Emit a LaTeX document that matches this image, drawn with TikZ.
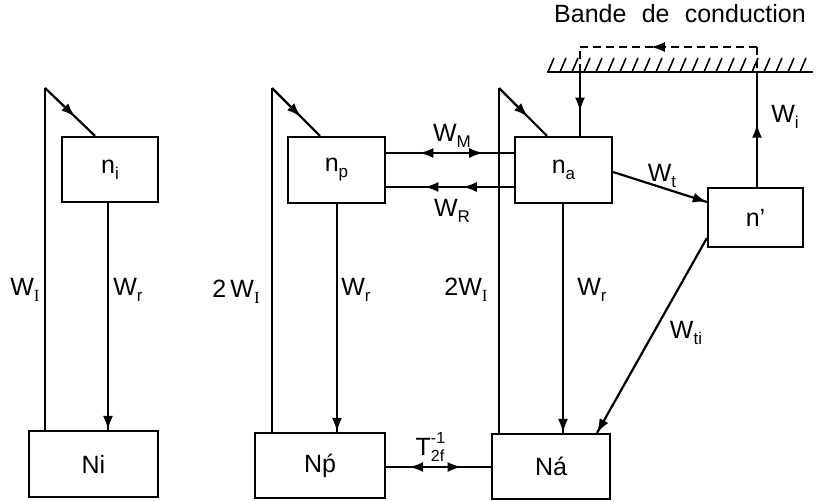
\documentclass[tikz,border=0pt]{standalone}
\usepackage{fontspec}
\setmainfont{Liberation Sans}
\newfontfamily\serifI{Liberation Serif}
\usetikzlibrary{decorations.markings,arrows.meta}
\tikzset{
  box/.style={draw,line width=2.2pt,inner sep=0pt,font=\fontsize{25}{27}\selectfont},
  ln/.style={line width=2.2pt},
  lab/.style={font=\fontsize{25}{27}\selectfont,inner sep=0pt},
  arrf/.style={postaction={decorate,decoration={markings,mark=at position #1 with {\arrow{Latex[length=14pt,width=10pt]}}}}},
  arrb/.style={postaction={decorate,decoration={markings,mark=at position #1 with {\arrowreversed{Latex[length=14pt,width=10pt]}}}}},
}
\newcommand{\lo}[1]{\raisebox{-0.45ex}{\fontsize{17}{17}\selectfont #1}}
\newcommand{\Wsub}[1]{W\lo{#1}}
\newcommand{\WI}{W\lo{\serifI I}}
\begin{document}
\begin{tikzpicture}[x=1pt,y=-1pt]
\useasboundingbox (0,0) rectangle (822,501);
% boxes
\node[box,minimum width=96pt,minimum height=65pt] (ni) at (110,169.5) {n\lo{i}};
\node[box,minimum width=129pt,minimum height=66pt] (Ni) at (93.5,464) {Ni};
\node[box,minimum width=97pt,minimum height=66pt] (np) at (336.5,170) {n\lo{p}};
\node[box,minimum width=130pt,minimum height=65pt] (Np) at (320,465.5) {N\'{p}};
\node[box,minimum width=97pt,minimum height=66pt] (na) at (563.5,170) {n\lo{a}};
\node[box,minimum width=118pt,minimum height=65pt] (Na) at (551,466.5) {Ná};
\node[box,minimum width=95pt,minimum height=59pt] (nq) at (755.5,217.5) {n'};
% top corner coordinates
\coordinate (c1) at (45,88);
\coordinate (c2) at (272,88);
\coordinate (c3) at (499,88);
% left group
\draw[ln] (Ni.north -| c1) -- (c1);
\draw[ln,arrf=0.6] (c1) -- (ni.north -| 95,0);
\draw[ln,arrf=1] (ni.south -| 108,0) -- (Ni.north -| 108,0);
% p group
\draw[ln] (Np.north -| c2) -- (c2);
\draw[ln,arrf=0.6] (c2) -- (np.north -| 320,0);
\draw[ln,arrf=1] (np.south -| 337,0) -- (Np.north -| 337,0);
% a group
\draw[ln] (Na.north -| c3) -- (c3);
\draw[ln,arrf=0.6] (c3) -- (na.north -| 547,0);
\draw[ln,arrf=1] (na.south -| 563,0) -- (Na.north -| 563,0);
% W_M, W_R
\draw[ln,arrb=0.26,arrf=0.76] (np.east |- 0,153) -- (na.west |- 0,153);
\draw[ln,arrb=0.30,arrb=0.60] (np.east |- 0,187) -- (na.west |- 0,187);
% T2f
\draw[ln,arrb=0.22,arrf=0.72] (Np.east |- 0,467) -- (Na.west |- 0,467);
% W_t, W_ti
\draw[ln,arrf=1] (na.east |- 0,172) -- (nq.west |- 0,202);
\draw[ln,arrf=1] (nq.west |- 0,238) -- (Na.north -| 597,0);
% conduction band
\coordinate (b1) at (580,72);
\coordinate (b2) at (757,72);
\coordinate (d1) at (580,47);
\coordinate (d2) at (757,47);
\draw[ln] (547,72) -- (813,72);
\foreach \x in {548,560,...,810} \draw[line width=1.6pt] (\x,72) -- (\x+6,58);
\draw[ln,arrf=0.62] (b1) -- (na.north -| b1);
\draw[ln,arrf=0.55] (nq.north -| b2) -- (b2);
\draw[ln,dash pattern=on 8pt off 5pt] (b1) -- (d1);
\draw[ln,dash pattern=on 8pt off 5pt] (d2) -- (b2);
\draw[ln,dash pattern=on 8pt off 5pt,arrb=0.40] (d1) -- (d2);
% labels
\node[lab] (t0) at (680,14) {Bande\,\, de\,\, conduction};
\node[lab] (l1) at (25,290) {\WI};
\node[lab] (l2) at (128,290) {\Wsub{r}};
\node[lab] (l3) at (236,292) {2\,\WI};
\node[lab] (l4) at (356,290) {\Wsub{r}};
\node[lab] (l5) at (466,290) {2\WI};
\node[lab] (l6) at (592,290) {\Wsub{r}};
\node[lab] (l7) at (452,136) {\Wsub{M}};
\node[lab] (l8) at (452,211) {\Wsub{R}};
\node[lab] (l9) at (662,176) {\Wsub{t}};
\node[lab] (l10) at (785,117) {\Wsub{i}};
\node[lab] (l11) at (686,333) {\Wsub{ti}};
\node[lab] (l12) at (430,447) {T\rlap{\raisebox{12pt}{\fontsize{16}{16}\selectfont -1}}\raisebox{-6pt}{\fontsize{16}{16}\selectfont 2f}};
\end{tikzpicture}
\end{document}
